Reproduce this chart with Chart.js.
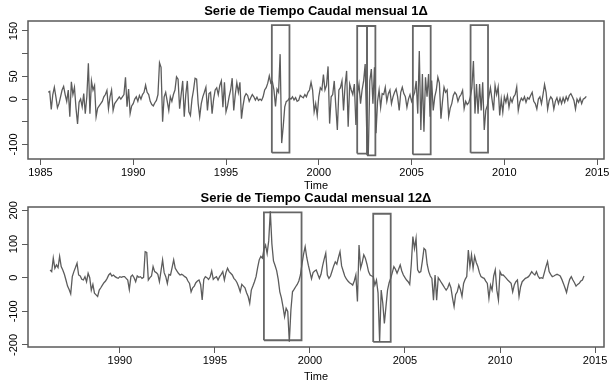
<!DOCTYPE html>
<html>
<head>
<meta charset="utf-8">
<script src="https://cdn.jsdelivr.net/npm/chart.js@4.4.1/dist/chart.umd.min.js"></script>
<style>
  html, body { margin: 0; padding: 0; background: #fff; }
  #wrap { position: relative; width: 609px; height: 383px; overflow: hidden; }
  canvas { position: absolute; left: 0; }
</style>
</head>
<body>
<div id="wrap">
  <canvas id="chart1" width="609" height="192" style="top:0px"></canvas>
  <canvas id="chart2" width="609" height="192" style="top:191px"></canvas>
</div>
<script>
// monthly first difference, starts June 1985
const start1 = 1985 + 5 / 12;
const caudal1 = [
  15, 17, -23, 10, 26, 5, -19, -10, 5, 20, 28, 10,
  -5, 20, -39, 38, 10, 26, -20, -55, -7, 0, -17, 12,
  -32, 5, 79, -32, 40, 20, 30, -39, -20, -15, -10, -5,
  5, 10, 19, -21, 5, 20, -25, -10, -5, 0, 5, 0,
  5, 10, 48, -17, 22, -32, -15, -10, 0, 5, -5, 8,
  0, 10, 15, 31, 15, 10, -5, -12, -15, -8, -3, 10,
  80, 70, -50, 5, 15, -5, -25, 5, -5, 10, 20, 49,
  44, -21, 10, 40, -39, 10, 40, -28, -36, 0, 20, 46,
  44, -10, -39, -10, 5, 15, 26, -25, 12, 15, -32, 0,
  20, 25, 10, 30, 40, -18, 37, -28, -15, 5, 20, 46,
  -25, 10, 36, 15, 37, -43, -15, 5, 12, 8, -5, 3,
  10, 5, -2, 4, -3, 0, -3, 5, 20, 25, 35, 51,
  35, 38, 20, -16, 22, 15, 99, -97, -60, -17, -5, -3,
  2, 0, 5, -2, 3, -5, -3, 8, 5, 3, 10, 5,
  15, 20, 37, 20, -28, -10, -36, 5, 25, 20, 54, 20,
  30, 72, -54, 5, 10, 40, -15, -68, 20, 25, 40, -25,
  30, 62, -61, 33, 20, 10, 33, -57, 12, 33, -10, 20,
  40, 77, -72, -125, 40, 66, -10, 70, -75, -5, 20, -18,
  12, 10, 26, -5, 12, 20, -10, 5, 15, 22, 5, -25,
  15, 26, 12, 5, -18, 0, 10, -5, 5, 15, 40, -32,
  106, -68, 55, -72, 48, 5, 55, -39, 41, -25, 5, 20,
  48, 35, -43, -5, 26, 15, 20, -39, -20, -10, 8, 15,
  10, -5, 5, 10, 19, -21, -5, -12, -8, 5, 25, 84,
  -32, 33, -32, 33, -25, 37, -68, -25, -14, 5, 25, 0,
  -25, 30, 10, 27, -36, 0, -29, 5, -7, 8, -18, 2,
  -7, 5, 10, 27, -25, -7, 2, -3, 5, -7, 3, 0,
  8, 15, -5, -10, -22, 0, 5, -10, 10, 32, 15, -22,
  -3, 5, 0, -22, -5, 3, -10, 2, -10, 3, -7, 5,
  -3, 8, 12, 5, -3, -22, 0, -7, 2, -10, 0, 2,
  6
];

// 12-month difference, starts May 1986
const start2 = 1986 + 4 / 12;
const caudal12 = [
  23, 18, 58, 28, 38, 30, 63, 33, 23, 10, -7, -25,
  -35, -48, 3, 18, 30, 43, 8, 5, -5, -7, 3, -12,
  13, 0, -37, -20, -46, -51, -56, -37, -30, -22, -15, -10,
  -2, 8, 13, 5, 8, 3, 0, -2, 3, 1, 3, 3,
  -2, -7, -35, 3, 8, 0, -12, 5, 1, 3, -2, 1,
  77, 75, -7, 0, 5, 33, 18, 15, 10, -12, 20, 53,
  15, 3, -17, 10, 8, 30, 53, 28, 20, 13, 8, 10,
  7, 3, 0, -10, -17, -42, -30, -25, -15, -10, -7, -20,
  -66, -5, 3, 0, -5, 2, 20, -5, 0, 3, -7, 3,
  10, 18, -7, 15, 28, 18, 13, 8, -2, -7, -15, -27,
  -42, -20, -25, -30, -45, -56, -76, -37, -25, -12, 3, 30,
  53, 63, 58, 85, 97, 72, 110, 197, 100, 50, 36, 21,
  -5, -42, -60, -86, -116, -91, -100, -190, -96, -42, -35, -27,
  -20, -10, 8, 40, 70, 92, 60, 37, 17, -3, 15, 20,
  23, 10, -2, 10, 35, 55, 73, 8, -2, 5, 20, 35,
  47, 40, 60, 77, 35, 20, 5, -4, -10, -15, -18, -22,
  -10, 8, -71, 97, 28, 45, 68, 58, 40, 18, 8, 5,
  3, -22, -7, -45, -190, -37, -76, -136, -86, -37, -15, -2,
  15, 33, 25, 13, 25, 38, 20, 8, 0, -7, -12, -20,
  40, 122, 87, 117, 23, 15, 18, 50, 87, 82, 40, 18,
  5, -2, -67, 8, -67, 0, -7, -15, -22, -30, -37, -30,
  -17, -30, -60, -86, -50, -42, -22, -35, -56, -17, -5, 3,
  82, 33, 68, 28, 63, 45, 33, 15, 3, 0, -2, -10,
  -17, -61, -22, -37, 5, 23, -37, -66, 18, 8, 8, 3,
  -2, -8, -12, -17, -42, -22, -12, -7, -56, -27, -12, -7,
  -2, 0, 3, 10, 18, 12, 8, 18, 5, -2, 0, -2,
  15, 33, 48, 18, 10, 3, 5, 8, 10, 8, 5, -5,
  -17, -30, -44, -22, -5, 3, -7, -15, -25, -20, -17, -10,
  -7, 5
];

const xTicks1 = [1985, 1990, 1995, 2000, 2005, 2010, 2015];
const xTicks2 = [1990, 1995, 2000, 2005, 2010, 2015];
const yTicks1 = [-100, -50, 0, 50, 100, 150];
const yLabels1 = ['-100', '', '0', '50', '', '150'];
const yTicks2 = [-200, -100, 0, 100, 200];
const yLabels2 = ['-200', '-100', '0', '100', '200'];

// highlighted periods: [x from, x to, y from, y to]
const boxes1 = [
  [1997.47, 1998.42, -118, 163],
  [2002.07, 2002.60, -120, 161],
  [2002.60, 2003.05, -124, 161],
  [2005.07, 2006.03, -122, 161],
  [2008.18, 2009.12, -118, 163]
];
const boxes2 = [
  [1997.58, 1999.56, -186, 194],
  [2003.33, 2004.25, -191, 190]
];

const FONT = "'Liberation Sans', Arial, sans-serif";
const LINE = '#5c5c5c';
const FRAME = '#5a5a5a';

// frame, rotated y labels and the panel title
const rPlot = {
    id: 'rPlot',
    afterDraw(chart, args, opts) {
        const ctx = chart.ctx;
        const a = chart.chartArea;
        ctx.save();
        ctx.strokeStyle = FRAME;
        ctx.lineWidth = 1.5;
        ctx.strokeRect(a.left, a.top, a.right - a.left, a.bottom - a.top);

        const y = chart.scales.y;
        ctx.fillStyle = '#000';
        ctx.font = '11px ' + FONT;
        ctx.textAlign = 'center';
        ctx.textBaseline = 'middle';
        opts.yTicks.forEach((v, i) => {
            const label = opts.yLabels[i];
            if (!label) return;
            ctx.save();
            ctx.translate(14, y.getPixelForValue(v));
            ctx.rotate(-Math.PI / 2);
            ctx.fillText(label, 0, 0);
            ctx.restore();
        });

        ctx.font = 'bold 13px ' + FONT;
        ctx.textBaseline = 'middle';
        ctx.fillText(opts.title, (a.left + a.right) / 2, opts.titleY);
        ctx.restore();
    }
};

function boxDataset(b) {
    return {
        data: [
            { x: b[0], y: b[2] }, { x: b[1], y: b[2] },
            { x: b[1], y: b[3] }, { x: b[0], y: b[3] },
            { x: b[0], y: b[2] }
        ],
        borderColor: '#666666',
        borderWidth: 1.8,
        pointRadius: 0,
        fill: false,
        clip: false
    };
}

function makePanel(id, p) {
    const series = p.values.map((v, i) => ({ x: p.start + i / 12, y: v }));
    const datasets = [{
        data: series,
        borderColor: LINE,
        borderWidth: 1.3,
        pointRadius: 0,
        fill: false,
        tension: 0
    }].concat(p.boxes.map(boxDataset));

    return new Chart(document.getElementById(id).getContext('2d'), {
        type: 'line',
        data: { datasets: datasets },
        options: {
            responsive: false,
            animation: false,
            devicePixelRatio: 1,
            layout: { padding: { top: p.top, right: 5, left: 0, bottom: 0 } },
            plugins: {
                legend: { display: false },
                tooltip: { enabled: false },
                rPlot: { title: p.title, titleY: p.titleY, yTicks: p.yTicks, yLabels: p.yLabels }
            },
            scales: {
                x: {
                    type: 'linear',
                    min: p.xMin,
                    max: p.xMax,
                    afterBuildTicks: s => { s.ticks = p.xTicks.map(v => ({ value: v })); },
                    afterFit: s => { s.height = p.xHeight; s.paddingLeft = 0; s.paddingRight = 0; },
                    ticks: {
                        autoSkip: false, maxRotation: 0, padding: 1,
                        color: '#000', font: { family: FONT, size: 11 },
                        callback: v => String(v)
                    },
                    grid: { drawOnChartArea: false, drawTicks: true, tickLength: 6, color: FRAME, lineWidth: 1 },
                    border: { display: false },
                    title: { display: true, text: 'Time', color: '#000', font: { family: FONT, size: 11 }, padding: { top: 0, bottom: -1 } }
                },
                y: {
                    type: 'linear',
                    min: p.yMin,
                    max: p.yMax,
                    afterBuildTicks: s => { s.ticks = p.yTicks.map(v => ({ value: v })); },
                    afterFit: s => { s.width = 28; s.paddingTop = 0; s.paddingBottom = 0; },
                    ticks: { display: false },
                    grid: { drawOnChartArea: false, drawTicks: true, tickLength: 6, color: FRAME, lineWidth: 1 },
                    border: { display: false }
                }
            }
        },
        plugins: [rPlot]
    });
}

makePanel('chart1', {
    values: caudal1, start: start1, boxes: boxes1,
    xMin: 1984.33, xMax: 2015.37, xTicks: xTicks1,
    yMin: -132, yMax: 172, yTicks: yTicks1, yLabels: yLabels1,
    top: 21, xHeight: 33,
    title: 'Serie de Tiempo Caudal mensual 1\u0394', titleY: 11.5
});

makePanel('chart2', {
    values: caudal12, start: start2, boxes: boxes2,
    xMin: 1985.17, xMax: 2015.47, xTicks: xTicks2,
    yMin: -206, yMax: 210, yTicks: yTicks2, yLabels: yLabels2,
    top: 16, xHeight: 36,
    title: 'Serie de Tiempo Caudal mensual 12\u0394', titleY: 7
});
</script>
</body>
</html>
